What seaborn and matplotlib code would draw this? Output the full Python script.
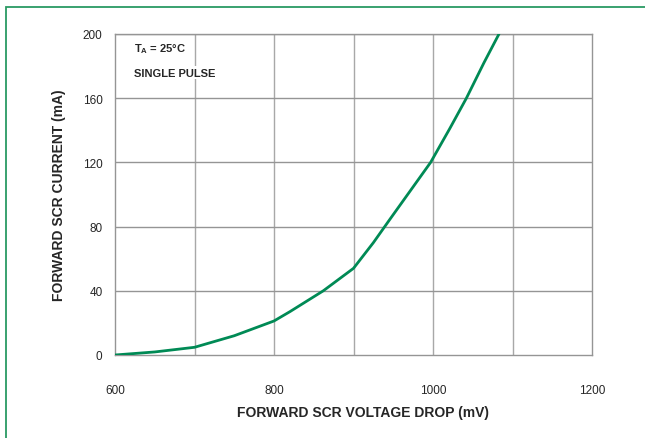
import matplotlib.pyplot as plt
import matplotlib.patches as patches
import seaborn as sns
import pandas as pd

sns.set_style("white")
plt.rcParams['font.family'] = ['Liberation Sans', 'DejaVu Sans']

voltage_mv = [600, 650, 700, 750, 800, 820, 862, 900, 925, 946, 997, 1021, 1042, 1064, 1083]
current_ma = [0, 1.9, 4.8, 12, 21.2, 27, 40, 54, 70, 84.7, 120, 141, 160, 182, 200]
x_ticks = [600, 800, 1000, 1200]
y_ticks = [0, 40, 80, 120, 160, 200]

curve = pd.DataFrame({'voltage': voltage_mv, 'current': current_ma})

fig = plt.figure(figsize=(6.45, 4.39), dpi=100)
ax = fig.add_axes([115 / 645, 83 / 439, 477 / 645, 321 / 439])

# grid every 100 mV, labels only every 200 mV
for v in range(700, 1200, 100):
    ax.axvline(v, color='#a8a8a8', lw=1.0, zorder=1)
for c in y_ticks[1:]:
    ax.axhline(c, color='#959595', lw=1.0, zorder=1)

sns.lineplot(data=curve, x='voltage', y='current', color='#008a55', lw=2.0, ax=ax, zorder=3)

ax.set_xlim(600, 1200)
ax.set_ylim(0, 200)
ax.set_xticks(x_ticks)
ax.set_yticks(y_ticks)
ax.tick_params(axis='x', length=5, pad=16, labelsize=8.5, color='#959595')
ax.tick_params(axis='y', length=5, pad=4, labelsize=8.5, color='#959595')
for s in ax.spines.values():
    s.set_color('#959595')
    s.set_linewidth(1.0)

ax.set_xlabel('FORWARD SCR VOLTAGE DROP (mV)', fontsize=10, fontweight='bold', labelpad=12)
ax.xaxis.set_label_coords(0.52, -0.155)
ax.set_ylabel('FORWARD SCR CURRENT (mA)', fontsize=10, fontweight='bold', labelpad=12)

ax.text(624, 191, r'T$_\mathregular{A}$ = 25°C', fontsize=8, fontweight='bold', va='center',
        bbox=dict(facecolor='white', edgecolor='none', pad=1), zorder=2)
ax.text(624, 176, 'SINGLE PULSE', fontsize=8, fontweight='bold', va='center',
        bbox=dict(facecolor='white', edgecolor='none', pad=1), zorder=2)

border = patches.Rectangle((6 / 645, -0.05), 1.2, 1 - 8 / 439 + 0.05, transform=fig.transFigure,
                           fill=False, edgecolor='#2a9a63', lw=1.3, clip_on=False)
fig.patches.append(border)

fig.savefig('out.png', dpi=100)
